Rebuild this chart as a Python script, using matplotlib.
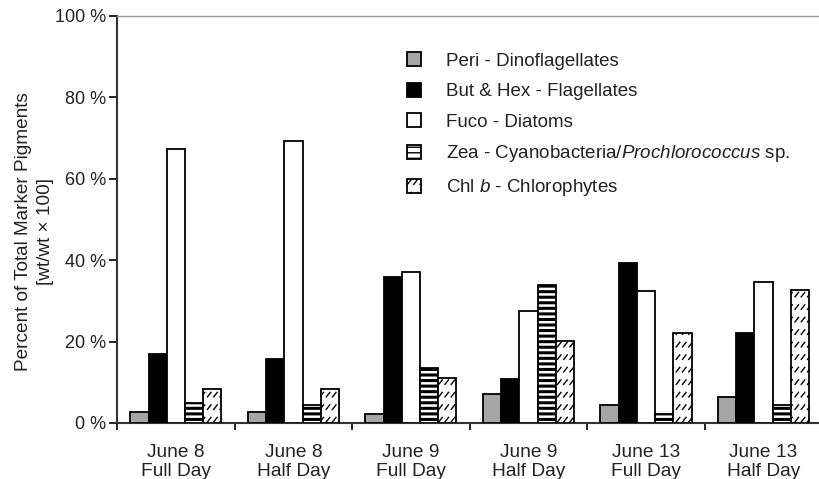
import matplotlib
matplotlib.use("Agg")
import matplotlib.pyplot as plt
import matplotlib.hatch as mhatch
from matplotlib.path import Path
import numpy as np

plt.rcParams['font.family'] = ['Liberation Sans', 'DejaVu Sans']
plt.rcParams['mathtext.fontset'] = 'custom'
plt.rcParams['mathtext.it'] = 'Liberation Sans:italic'
plt.rcParams['mathtext.rm'] = 'Liberation Sans'

categories = ["June 8\nFull Day", "June 8\nHalf Day", "June 9\nFull Day",
              "June 9\nHalf Day", "June 13\nFull Day", "June 13\nHalf Day"]
peri = [2.8, 2.8, 2.3, 7.1, 4.4, 6.3]
but_hex = [17.0, 15.6, 35.8, 10.7, 39.4, 22.1]
fuco = [67.4, 69.3, 37.0, 27.6, 32.3, 34.6]
zea = [4.8, 4.4, 13.4, 33.9, 2.1, 4.5]
chlb = [8.4, 8.4, 11.1, 20.2, 22.1, 32.7]
series_labels = ["Peri - Dinoflagellates",
                 "But & Hex - Flagellates",
                 "Fuco - Diatoms",
                 "Zea - Cyanobacteria/$\\it{Prochlorococcus}$ sp.",
                 "Chl $\\it{b}$ - Chlorophytes"]
yticks = [0, 20, 40, 60, 80, 100]


# custom "short dashed diagonal" hatch, bound to the 'O' character
class DashDiagHatch:
    filled = False

    def __init__(self, hatch, density):
        self.on = 'O' in hatch
        nr, nc = 8, 16
        segs = []
        if self.on:
            for r in range(nr):
                for c in range(nc):
                    x0 = (c + 0.2) / nc
                    y0 = (r + 0.25) / nr
                    segs.append(((x0, y0), (x0 + 0.035, y0 + 0.045)))
        self.segs = segs
        self.num_vertices = 2 * len(segs)

    def set_vertices_and_codes(self, vertices, codes):
        for k, (a, b) in enumerate(self.segs):
            vertices[2 * k] = a
            vertices[2 * k + 1] = b
            codes[2 * k] = Path.MOVETO
            codes[2 * k + 1] = Path.LINETO


try:
    mhatch._hatch_types = [t for t in mhatch._hatch_types
                           if t is not mhatch.LargeCircles] + [DashDiagHatch]
    chl_hatch = 'O'
except Exception:
    chl_hatch = '///'

fig = plt.figure(figsize=(8.19, 4.79), dpi=100)
ax = fig.add_axes([0.143, 0.117, 0.861, 0.850])

series = [peri, but_hex, fuco, zea, chlb]
styles = [dict(color='#a6a6a6', hatch=None, hlw=1.0),
          dict(color='black', hatch=None, hlw=1.0),
          dict(color='white', hatch=None, hlw=1.0),
          dict(color='white', hatch='---', hlw=2.2),
          dict(color='white', hatch=chl_hatch, hlw=1.0)]
bw = 0.155
x = np.arange(len(categories))
handles = []
for i, (vals, st) in enumerate(zip(series, styles)):
    with plt.rc_context({'hatch.linewidth': st['hlw']}):
        b = ax.bar(x + (i - 2) * bw, vals, width=bw, color=st['color'],
                   edgecolor='black', linewidth=1.3, hatch=st['hatch'],
                   label=series_labels[i], zorder=3)
    for p in b.patches:
        if hasattr(p, 'set_hatch_linewidth'):
            p.set_hatch_linewidth(st['hlw'])
    handles.append(b)

ax.set_xlim(-0.5, 5.5)
ax.set_ylim(0, 100)
ax.set_yticks(yticks)
ax.set_yticklabels([f"{v} %" for v in yticks])
ax.set_xticks([-0.5 + k for k in range(7)])
ax.set_xticklabels([])
ax.set_xticks(x, minor=True)
ax.set_xticklabels(categories, minor=True)
ax.tick_params(axis='x', which='minor', length=0, pad=15, labelsize=13.8, labelcolor='#222222')
ax.tick_params(axis='x', which='major', length=5, width=1.2, direction='out')
ax.tick_params(axis='y', length=6, width=1.2, direction='out', labelsize=13,
               labelcolor='#222222', pad=2)

ax.spines['right'].set_visible(False)
ax.spines['top'].set_color('#999999')
ax.spines['top'].set_linewidth(1.0)
ax.spines['left'].set_linewidth(1.5)
ax.spines['bottom'].set_linewidth(1.5)
ax.spines['left'].set_color('#333333')
ax.spines['bottom'].set_color('#333333')

ax.set_ylabel("Percent of Total Marker Pigments\n[wt/wt \u00d7 100]", fontsize=13.7,
              color='#222222', linespacing=1.35)
ax.yaxis.set_label_coords(-0.09, 0.47)

leg = ax.legend(handles=handles, loc='upper left', bbox_to_anchor=(0.411, 0.91),
                frameon=False, fontsize=13.5, handlelength=0.75, handleheight=0.75,
                handletextpad=1.35, labelspacing=0.69, labelcolor='#222222',
                borderpad=0, borderaxespad=0)

fig.savefig("out.png", dpi=100)
